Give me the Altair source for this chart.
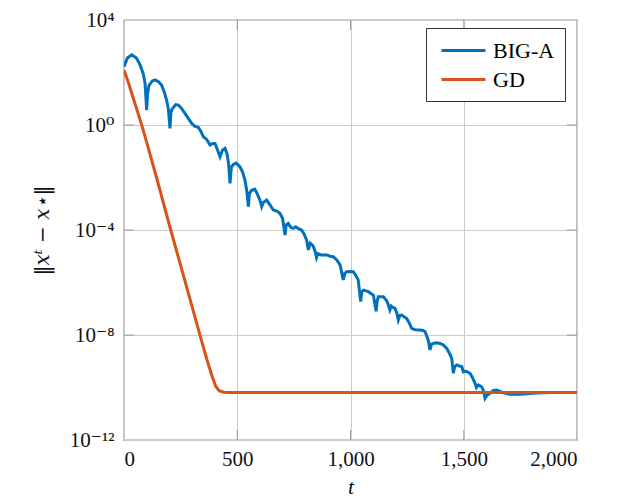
import altair as alt
import numpy as np
import pandas as pd

# BIG-A: iteration t and log10 of the error
t_biga = [0, 15, 34, 55, 71, 85, 93, 100, 104, 110, 125, 137, 152, 166, 178, 188, 196, 203, 207, 212,
          228, 240, 255, 269, 284, 299, 314, 328, 340, 350, 365, 380, 392, 402, 413, 424, 435, 446, 455,
          462, 468, 474, 483, 495, 512, 524, 534, 542, 549, 554, 564, 578, 590, 600, 608, 615, 630, 645,
          659, 675, 689, 700, 711, 716, 725, 736, 747, 758, 770, 784, 795, 806, 814, 822, 835, 845, 850,
          856, 870, 895, 910, 924, 940, 954, 968, 975, 983, 998, 1012, 1025, 1034, 1045, 1050, 1057, 1079,
          1095, 1101, 1113, 1118, 1123, 1145, 1160, 1167, 1174, 1180, 1187, 1196, 1204, 1211, 1218, 1226,
          1248, 1260, 1270, 1285, 1307, 1320, 1329, 1343, 1351, 1358, 1366, 1380, 1395, 1410, 1425, 1440,
          1447, 1454, 1460, 1469, 1480, 1491, 1498, 1510, 1528, 1540, 1550, 1556, 1565, 1579, 1588, 1594,
          1602, 1616, 1630, 1645, 1660, 1675, 1704, 1748, 1806, 1850, 1900, 2000]
lg_biga = [2.22, 2.55, 2.67, 2.55, 2.29, 1.95, 1.59, 0.57, 1.2, 1.5, 1.68, 1.72, 1.65, 1.52, 1.25, 0.95,
           0.6, -0.13, 0.45, 0.6, 0.78, 0.76, 0.62, 0.44, 0.25, 0.06, -0.05, -0.09, -0.25, -0.44, -0.55,
           -0.76, -0.7, -0.7, -0.95, -1.21, -0.95, -0.89, -1.1, -1.5, -2.22, -1.6, -1.5, -1.45, -1.59, -1.8,
           -2.1, -2.5, -3.11, -2.6, -2.48, -2.45, -2.65, -2.86, -3.11, -2.95, -2.86, -3.05, -3.24, -3.28,
           -3.37, -3.55, -4.19, -3.8, -3.75, -3.9, -3.94, -3.88, -3.95, -4.0, -4.15, -4.38, -4.76, -4.5,
           -4.6, -4.85, -5.05, -4.9, -4.95, -4.95, -5.0, -5.02, -5.15, -5.33, -5.9, -5.65, -5.59, -5.58,
           -5.59, -5.75, -5.9, -6.73, -6.35, -6.29, -6.35, -6.45, -6.48, -7.1, -6.7, -6.54, -6.54, -6.7,
           -6.86, -7.05, -6.9, -6.95, -6.98, -7.15, -7.43, -7.25, -7.24, -7.37, -7.55, -7.75, -7.8, -7.81,
           -7.83, -7.87, -8.19, -8.57, -8.35, -8.32, -8.3, -8.32, -8.38, -8.51, -8.75, -8.89, -9.46, -9.2,
           -9.14, -9.18, -9.2, -9.4, -9.38, -9.46, -9.65, -9.84, -10.0, -9.9, -9.97, -10.15, -10.41, -10.3,
           -10.22, -10.12, -10.1, -10.15, -10.2, -10.26, -10.26, -10.22, -10.2, -10.19, -10.19]

# GD
t_gd = [0, 20, 40, 60, 80, 100, 150, 200, 250, 300, 340, 370, 390, 405, 420, 440, 470, 1000, 1500, 2000]
lg_gd = [2.1, 1.6, 1.05, 0.5, -0.05, -0.65, -2.2, -3.8, -5.35, -6.9, -8.15, -9.05, -9.6, -9.95, -10.12,
         -10.18, -10.19, -10.19, -10.19, -10.19]

series_names = ["BIG-A", "GD"]
series_colors = ["#0072BD", "#D95319"]

x_ticks = [0, 500, 1000, 1500, 2000]
y_ticks = [1e-12, 1e-8, 1e-4, 1, 1e4]

df = pd.concat([
    pd.DataFrame({"t": t_biga, "err": np.power(10.0, lg_biga), "method": "BIG-A", "o": 0}),
    pd.DataFrame({"t": t_gd, "err": np.power(10.0, lg_gd), "method": "GD", "o": 1}),
])

FONT = "Liberation Serif, DejaVu Serif, serif"
W, H = 453, 420

xscale = alt.Scale(domain=[0, 2000], nice=False, zero=False)
yscale = alt.Scale(type="log", domain=[1e-12, 1e4], nice=False)

label_expr = ("datum.value < 1e-10 ? '10⁻¹²' : datum.value < 1e-6 ? '10⁻⁸' : "
              "datum.value < 1e-2 ? '10⁻⁴' : datum.value < 10 ? '10⁰' : '10⁴'")

lines = alt.Chart(df).mark_line(strokeWidth=3, clip=True).encode(
    x=alt.X("t:Q", scale=xscale,
            axis=alt.Axis(values=x_ticks, format=",d", title="t", titleFontStyle="italic",
                          titleFontWeight="normal", titleFontSize=22, titleY=46,
                          titleBaseline="middle", labelPadding=8, tickSize=0,
                          gridColor="#cccccc", domain=False)),
    y=alt.Y("err:Q", scale=yscale,
            axis=alt.Axis(values=y_ticks, labelExpr=label_expr, title="‖xᵗ − x⋆‖",
                          titleFont="DejaVu Serif", titleFontStyle="italic",
                          titleFontWeight="normal", titleFontSize=20,
                          titleX=-82, titleY=H / 2, titleAngle=-90, titleBaseline="middle",
                          titleAlign="center", labelPadding=10, tickSize=0,
                          gridColor="#cccccc", domain=False)),
    color=alt.Color("method:N", scale=alt.Scale(domain=series_names, range=series_colors),
                    legend=alt.Legend(title=None, orient="none", legendX=302, legendY=8,
                                      symbolType="M-1,0H3", symbolSize=484, symbolStrokeWidth=3,
                                      symbolOffset=4,
                                      labelFontSize=22, labelFont=FONT, labelOffset=28,
                                      padding=10, rowPadding=5, fillColor="white",
                                      strokeColor="#333333", cornerRadius=0)),
    order=alt.Order("o:Q"),
    detail="method:N",
)

tick_df_x = pd.DataFrame({"v": x_ticks[1:-1]})
tick_df_y = pd.DataFrame({"v": [1e-8, 1e-4, 1]})
tick_col = "#777777"
xt_bottom = alt.Chart(tick_df_x).mark_tick(orient="vertical", size=10, thickness=1, color=tick_col).encode(
    x=alt.X("v:Q", scale=xscale), y=alt.value(H - 5))
xt_top = alt.Chart(tick_df_x).mark_tick(orient="vertical", size=10, thickness=1, color=tick_col).encode(
    x=alt.X("v:Q", scale=xscale), y=alt.value(5))
yt_left = alt.Chart(tick_df_y).mark_tick(orient="horizontal", size=10, thickness=1, color=tick_col).encode(
    y=alt.Y("v:Q", scale=yscale), x=alt.value(5))
yt_right = alt.Chart(tick_df_y).mark_tick(orient="horizontal", size=10, thickness=1, color=tick_col).encode(
    y=alt.Y("v:Q", scale=yscale), x=alt.value(W - 5))

chart = alt.layer(xt_bottom, xt_top, yt_left, yt_right, lines).properties(
    width=W, height=H,
    padding={"left": 116, "top": 12, "right": 30, "bottom": 60},
    autosize=alt.AutoSizeParams(type="none"),
).configure_view(
    stroke="#333333", strokeWidth=1.2,
).configure_axis(
    labelFont=FONT, titleFont=FONT, labelFontSize=21, labelColor="#111111", titleColor="#111111",
    grid=True, gridWidth=1,
)

chart.save("out.html", embed_options={"renderer": "svg", "actions": False})
